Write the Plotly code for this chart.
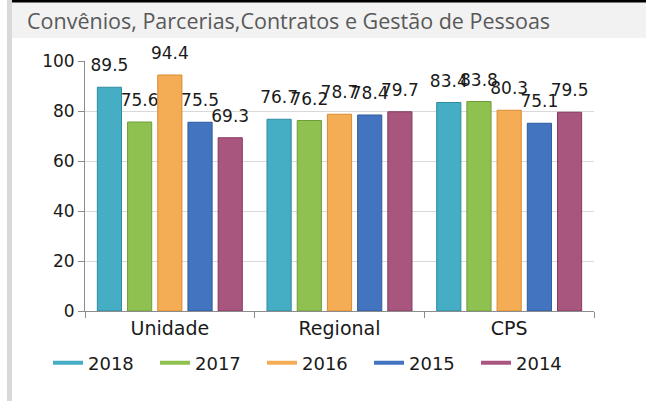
import plotly.graph_objects as go

categories = ["Unidade", "Regional", "CPS"]
years = ["2018", "2017", "2016", "2015", "2014"]
v2018 = [89.5, 76.7, 83.4]
v2017 = [75.6, 76.2, 83.8]
v2016 = [94.4, 78.7, 80.3]
v2015 = [75.5, 78.4, 75.1]
v2014 = [69.3, 79.7, 79.5]
series = [v2018, v2017, v2016, v2015, v2014]
y_ticks = [0, 20, 40, 60, 80, 100]

colors = ["#45adc4", "#8fc150", "#f5ad55", "#4274c0", "#a9567f"]
edges = ["#2f8aa0", "#6f9e38", "#d98a30", "#2d5a9e", "#86395f"]

W, H = 646, 401
ML, MR, MT, MB = 85, 52, 61, 90
PW, PH = W - ML - MR, H - MT - MB
LABEL_LIFT = 3.6  # gap between bar top and its value label, in axis units

def px(x):
    return (x - ML) / PW

def py(y):
    return (H - MB - y) / PH

fig = go.Figure()
for yr, vals, c, e in zip(years, series, colors, edges):
    fig.add_trace(go.Bar(
        x=categories, y=vals, name=yr, offsetgroup=yr,
        marker=dict(color=c, line=dict(color=e, width=1)),
        showlegend=False, hoverinfo="y",
    ))
    fig.add_trace(go.Bar(
        x=categories, y=[LABEL_LIFT] * len(vals), base=vals, offsetgroup=yr,
        marker=dict(color="rgba(0,0,0,0)", line=dict(width=0)),
        text=[f"{v:.1f}" for v in vals], textposition="outside",
        textfont=dict(family="DejaVu Sans", size=17, color="#1a1a1a"),
        constraintext="none", cliponaxis=False,
        showlegend=False, hoverinfo="skip",
    ))
for yr, c in zip(years, colors):
    fig.add_trace(go.Scatter(
        x=[None], y=[None], mode="lines", name=yr,
        line=dict(color=c, width=4),
    ))

shapes = [
    dict(type="rect", xref="paper", yref="paper",
         x0=px(12), x1=px(W), y0=py(38), y1=py(2),
         fillcolor="#f2f2f2", line=dict(width=0), layer="below"),
    dict(type="rect", xref="paper", yref="paper",
         x0=px(7), x1=px(12), y0=py(H), y1=py(0),
         fillcolor="#d9d9d9", line=dict(width=0), layer="below"),
    dict(type="rect", xref="paper", yref="paper",
         x0=px(12), x1=px(W), y0=py(2.5), y1=py(0),
         fillcolor="#000000", line=dict(width=0), layer="above"),
]

fig.update_layout(
    width=W, height=H,
    margin=dict(l=ML, r=MR, t=MT, b=MB),
    paper_bgcolor="white", plot_bgcolor="white",
    barmode="group", bargap=0.11, bargroupgap=0.2,
    title=dict(text="Convênios, Parcerias,Contratos e Gestão de Pessoas",
               x=27 / W, xanchor="left", y=1 - 21 / H, yanchor="middle",
               font=dict(family="Open Sans", size=21.5, color="#595959")),
    shapes=shapes,
    showlegend=True,
    legend=dict(orientation="h", x=px(48), xanchor="left",
                y=py(363), yanchor="middle",
                font=dict(family="DejaVu Sans", size=18, color="#1a1a1a"),
                entrywidth=62, entrywidthmode="pixels",
                traceorder="normal", bgcolor="rgba(0,0,0,0)"),
    xaxis=dict(type="category", showline=True, linecolor="#8c8c8c", linewidth=1,
               ticks="outside", tickson="boundaries", ticklen=6, tickcolor="#8c8c8c",
               showgrid=False,
               tickfont=dict(family="DejaVu Sans", size=19, color="#1a1a1a")),
    yaxis=dict(range=[0, 100], tickvals=y_ticks, showline=True, linecolor="#8c8c8c",
               linewidth=1, ticks="outside", ticklen=6, tickcolor="#8c8c8c",
               showgrid=True, gridcolor="#d9d9d9", zeroline=False,
               tickfont=dict(family="DejaVu Sans", size=17, color="#1a1a1a")),
)

fig.write_html("out.html", config={"displayModeBar": False},
               post_script="document.body.style.margin='0';")
